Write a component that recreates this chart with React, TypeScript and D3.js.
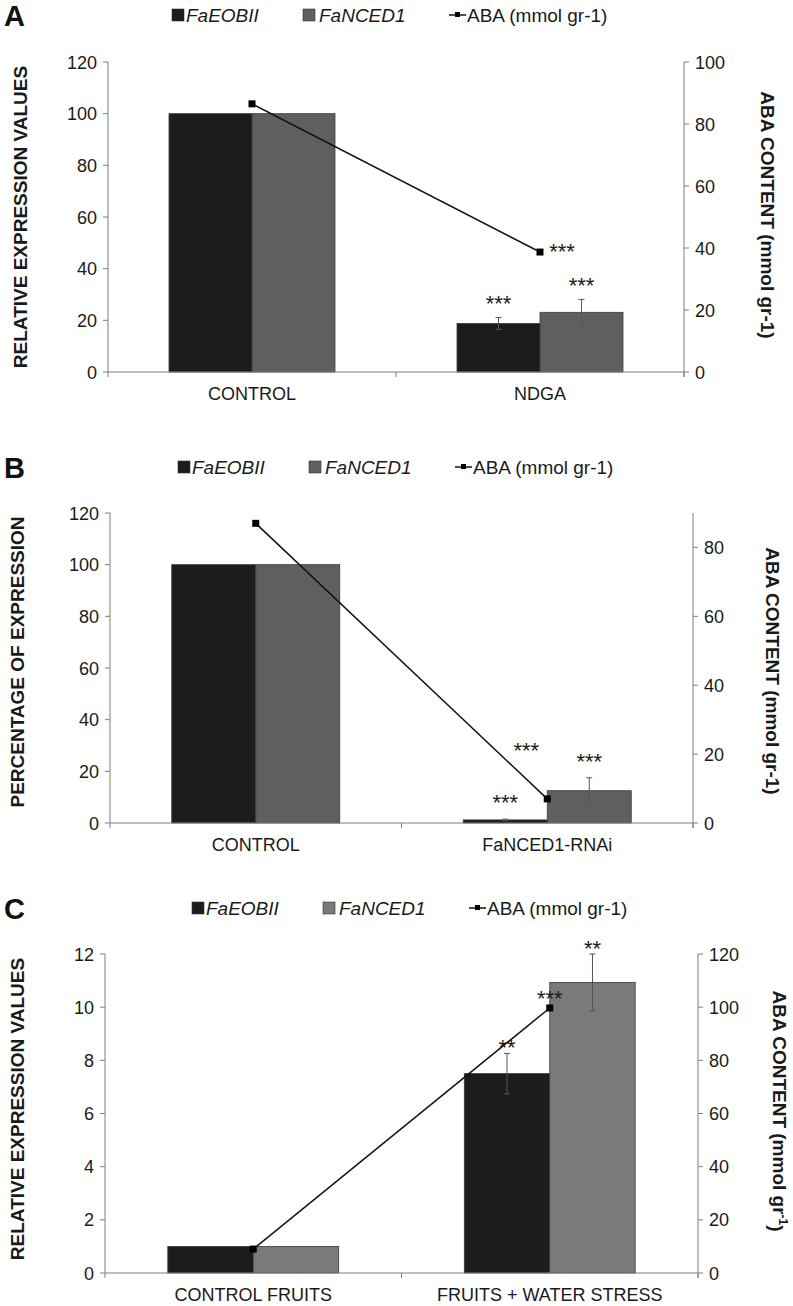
import React from "react";
import * as d3 from "d3";

// ---------- DATA ----------
const seriesNames = ["FaEOBII", "FaNCED1"];
const abaLegend = "ABA (mmol gr-1)";

// Panel A
const catsA = ["CONTROL", "NDGA"];
const eobiiA = [100, 18.8];
const eobiiErrA = [0, 2.3];
const nced1A = [100, 23.1];
const nced1ErrA = [0, 5.0];
const abaA = [86.5, 38.7];
const eobiiSigA = ["", "***"];
const nced1SigA = ["", "***"];
const abaSigA = ["", "***"];
const leftTicksA = [0, 20, 40, 60, 80, 100, 120];
const rightTicksA = [0, 20, 40, 60, 80, 100];

// Panel B
const catsB = ["CONTROL", "FaNCED1-RNAi"];
const eobiiB = [100, 1.2];
const eobiiErrB = [0, 0.3];
const nced1B = [100, 12.5];
const nced1ErrB = [0, 5.0];
const abaB = [87, 7.0];
const eobiiSigB = ["", "***"];
const nced1SigB = ["", "***"];
const abaSigB = ["", "***"];
const leftTicksB = [0, 20, 40, 60, 80, 100, 120];
const rightTicksB = [0, 20, 40, 60, 80];

// Panel C
const catsC = ["CONTROL FRUITS", "FRUITS + WATER STRESS"];
const eobiiC = [1, 7.5];
const eobiiErrC = [0, 0.76];
const nced1C = [1, 10.93];
const nced1ErrC = [0, 1.07];
const abaC = [9, 99.7];
const eobiiSigC = ["", "**"];
const nced1SigC = ["", "**"];
const abaSigC = ["", "***"];
const leftTicksC = [0, 2, 4, 6, 8, 10, 12];
const rightTicksC = [0, 20, 40, 60, 80, 100, 120];

const FONT = "'Liberation Sans', Arial, Helvetica, sans-serif";
const AXIS = "#7f7f7f";
const TXT = "#1a1a1a";

type PanelCfg = {
  letter: string;
  cats: string[];
  eobii: number[];
  eobiiErr: number[];
  nced1: number[];
  nced1Err: number[];
  aba: number[];
  eobiiSig: string[];
  nced1Sig: string[];
  abaSig: string[];
  leftTicks: number[];
  rightTicks: number[];
  leftMax: number;
  rightMax: number;
  leftTitle: string;
  rightSup: boolean;
  x0: number;
  x1: number;
  yTop: number;
  yBot: number;
  grayColor: string;
  legendX: number;
  legendY: number;
  letterY: number;
  leftTitleX: number;
  leftTitleY: number;
  rightTitleX: number;
  rightTitleY: number;
  abaSigDx: number;
  abaSigDy: number;
  barSigGap: number;
};

function Panel({ c }: { c: PanelCfg }) {
  const x = d3.scaleBand<string>().domain(c.cats).range([c.x0, c.x1]).paddingInner(0).paddingOuter(0);
  const xi = d3.scaleBand<string>().domain(seriesNames).range([0, x.bandwidth()]).paddingInner(0).paddingOuter(0.735);
  const yL = d3.scaleLinear().domain([0, c.leftMax]).range([c.yBot, c.yTop]);
  const yR = d3.scaleLinear().domain([0, c.rightMax]).range([c.yBot, c.yTop]);
  const colors = ["#1c1c1c", c.grayColor];
  const vals = [c.eobii, c.nced1];
  const errs = [c.eobiiErr, c.nced1Err];
  const sigs = [c.eobiiSig, c.nced1Sig];
  const center = (cat: string) => (x(cat) as number) + x.bandwidth() / 2;
  const line = d3
    .line<number>()
    .x((_, i) => center(c.cats[i]))
    .y((d) => yR(d));
  const boundaries = [c.x0, ...c.cats.map((cat) => (x(cat) as number) + x.bandwidth())];

  const L = c.legendX;
  const ly = c.legendY;
  return (
    <g>
      {/* panel letter */}
      <text x={4} y={c.letterY} fontFamily="'Liberation Sans Narrow', 'Liberation Sans', Arial" fontWeight="bold" fontSize={29} fill="#111">
        {c.letter}
      </text>
      {/* legend */}
      <g fontFamily={FONT} fontSize={19} fill={TXT}>
        <rect x={L} y={ly - 13} width={12} height={12} fill={colors[0]} stroke="#333" strokeWidth={0.6} />
        <text x={L + 14} y={ly} fontStyle="italic">{seriesNames[0]}</text>
        <rect x={L + 131} y={ly - 13} width={12} height={12} fill={colors[1]} stroke="#333" strokeWidth={0.6} />
        <text x={L + 147} y={ly} fontStyle="italic">{seriesNames[1]}</text>
        <line x1={L + 277} x2={L + 294} y1={ly - 7} y2={ly - 7} stroke="#111" strokeWidth={1.5} />
        <rect x={L + 283} y={ly - 10} width={5} height={5} fill="#000" />
        <text x={L + 295} y={ly}>{abaLegend}</text>
      </g>

      {/* bars */}
      {c.cats.map((cat, ci) =>
        seriesNames.map((s, si) => {
          const bx = (x(cat) as number) + (xi(s) as number);
          const v = vals[si][ci];
          return (
            <rect
              key={cat + s}
              x={bx}
              y={yL(v)}
              width={xi.bandwidth()}
              height={c.yBot - yL(v)}
              fill={colors[si]}
              stroke="#3a3a3a"
              strokeWidth={0.8}
            />
          );
        })
      )}
      {/* error bars */}
      {c.cats.map((cat, ci) =>
        seriesNames.map((s, si) => {
          const e = errs[si][ci];
          if (!e) return null;
          const cx = (x(cat) as number) + (xi(s) as number) + xi.bandwidth() / 2;
          const v = vals[si][ci];
          return (
            <g key={"e" + cat + s} stroke="#555" strokeWidth={1}>
              <line x1={cx} x2={cx} y1={yL(v + e)} y2={yL(v - e)} />
              <line x1={cx - 3} x2={cx + 3} y1={yL(v + e)} y2={yL(v + e)} />
              <line x1={cx - 3} x2={cx + 3} y1={yL(v - e)} y2={yL(v - e)} />
            </g>
          );
        })
      )}
      {/* bar significance */}
      {c.cats.map((cat, ci) =>
        seriesNames.map((s, si) => {
          const t = sigs[si][ci];
          if (!t) return null;
          const cx = (x(cat) as number) + (xi(s) as number) + xi.bandwidth() / 2;
          const top = yL(vals[si][ci] + errs[si][ci]);
          return (
            <text key={"s" + cat + s} x={cx} y={top - c.barSigGap + 11} textAnchor="middle" fontFamily={FONT} fontSize={22} fill={TXT}>
              {t}
            </text>
          );
        })
      )}

      {/* axes */}
      <g stroke={AXIS} strokeWidth={1} fill="none">
        <line x1={c.x0} x2={c.x1} y1={c.yBot} y2={c.yBot} />
        {boundaries.map((bx, i) => (
          <line key={"xt" + i} x1={bx} x2={bx} y1={c.yBot} y2={c.yBot + 5} />
        ))}
        <line x1={c.x0} x2={c.x0} y1={c.yTop} y2={c.yBot} />
        {c.leftTicks.map((t) => (
          <line key={"lt" + t} x1={c.x0 - 5} x2={c.x0} y1={yL(t)} y2={yL(t)} />
        ))}
        <line x1={c.x1} x2={c.x1} y1={c.yTop} y2={c.yBot + 5} />
        {c.rightTicks.map((t) => (
          <line key={"rt" + t} x1={c.x1} x2={c.x1 + 5} y1={yR(t)} y2={yR(t)} />
        ))}
      </g>
      <g fontFamily={FONT} fontSize={18} fill={TXT}>
        {c.leftTicks.map((t) => (
          <text key={"ll" + t} x={c.x0 - 11} y={yL(t) + 6.5} textAnchor="end">
            {t}
          </text>
        ))}
        {c.rightTicks.map((t) => (
          <text key={"rl" + t} x={c.x1 + 11} y={yR(t) + 6.5} textAnchor="start">
            {t}
          </text>
        ))}
        {c.cats.map((cat) => (
          <text key={"cl" + cat} x={center(cat)} y={c.yBot + 28} textAnchor="middle">
            {cat}
          </text>
        ))}
      </g>

      {/* ABA line */}
      <path d={line(c.aba) || ""} fill="none" stroke="#111" strokeWidth={1.5} />
      {c.aba.map((v, i) => (
        <rect key={"m" + i} x={center(c.cats[i]) - 3.5} y={yR(v) - 3.5} width={7} height={7} fill="#000" />
      ))}
      {c.aba.map((v, i) =>
        c.abaSig[i] ? (
          <text key={"as" + i} x={center(c.cats[i]) + c.abaSigDx} y={yR(v) + c.abaSigDy + 11} textAnchor="middle" fontFamily={FONT} fontSize={22} fill={TXT}>
            {c.abaSig[i]}
          </text>
        ) : null
      )}

      {/* titles */}
      <text
        transform={`translate(${c.leftTitleX},${c.leftTitleY}) rotate(-90)`}
        textAnchor="middle"
        fontFamily={FONT}
        fontWeight="bold"
        fontSize={19}
        fill={TXT}
        dy="0.35em"
      >
        {c.leftTitle}
      </text>
      <text
        transform={`translate(${c.rightTitleX},${c.rightTitleY}) rotate(90)`}
        textAnchor="middle"
        fontFamily={FONT}
        fontWeight="bold"
        fontSize={19}
        fill={TXT}
        dy="0.35em"
      >
        {c.rightSup ? (
          <>
            ABA CONTENT (mmol gr
            <tspan dy="-0.45em" fontSize={12}>-1</tspan>
            <tspan dy="0.45em">)</tspan>
          </>
        ) : (
          "ABA CONTENT (mmol gr-1)"
        )}
      </text>
    </g>
  );
}

const panels: PanelCfg[] = [
  {
    letter: "A",
    cats: catsA,
    eobii: eobiiA,
    eobiiErr: eobiiErrA,
    nced1: nced1A,
    nced1Err: nced1ErrA,
    aba: abaA,
    eobiiSig: eobiiSigA,
    nced1Sig: nced1SigA,
    abaSig: abaSigA,
    leftTicks: leftTicksA,
    rightTicks: rightTicksA,
    leftMax: 120,
    rightMax: 100,
    leftTitle: "RELATIVE EXPRESSION VALUES",
    rightSup: false,
    x0: 108,
    x1: 684,
    yTop: 62,
    yBot: 372,
    grayColor: "#5f5f5f",
    legendX: 172,
    legendY: 22,
    letterY: 26,
    leftTitleX: 20,
    leftTitleY: 217,
    rightTitleX: 768,
    rightTitleY: 215,
    abaSigDx: 22,
    abaSigDy: -4,
    barSigGap: 17,
  },
  {
    letter: "B",
    cats: catsB,
    eobii: eobiiB,
    eobiiErr: eobiiErrB,
    nced1: nced1B,
    nced1Err: nced1ErrB,
    aba: abaB,
    eobiiSig: eobiiSigB,
    nced1Sig: nced1SigB,
    abaSig: abaSigB,
    leftTicks: leftTicksB,
    rightTicks: rightTicksB,
    leftMax: 120,
    rightMax: 90,
    leftTitle: "PERCENTAGE OF EXPRESSION",
    rightSup: false,
    x0: 110,
    x1: 693,
    yTop: 513,
    yBot: 823,
    grayColor: "#5f5f5f",
    legendX: 178,
    legendY: 474,
    letterY: 478,
    leftTitleX: 17,
    leftTitleY: 662,
    rightTitleX: 773,
    rightTitleY: 671,
    abaSigDx: -21,
    abaSigDy: -52,
    barSigGap: 20,
  },
  {
    letter: "C",
    cats: catsC,
    eobii: eobiiC,
    eobiiErr: eobiiErrC,
    nced1: nced1C,
    nced1Err: nced1ErrC,
    aba: abaC,
    eobiiSig: eobiiSigC,
    nced1Sig: nced1SigC,
    abaSig: abaSigC,
    leftTicks: leftTicksC,
    rightTicks: rightTicksC,
    leftMax: 12,
    rightMax: 120,
    leftTitle: "RELATIVE EXPRESSION VALUES",
    rightSup: true,
    x0: 105,
    x1: 698,
    yTop: 954,
    yBot: 1273,
    grayColor: "#7a7a7a",
    legendX: 192,
    legendY: 915,
    letterY: 919,
    leftTitleX: 17,
    leftTitleY: 1109,
    rightTitleX: 780,
    rightTitleY: 1111,
    abaSigDx: 0,
    abaSigDy: -13,
    barSigGap: 9,
  },
];

export default function App() {
  return (
    <svg
      width={793}
      height={1306}
      viewBox="0 0 793 1306"
      style={{ position: "absolute", left: 0, top: 0, background: "#fff" }}
    >
      <rect width={793} height={1306} fill="#fff" />
      {panels.map((p) => (
        <Panel key={p.letter} c={p} />
      ))}
    </svg>
  );
}
